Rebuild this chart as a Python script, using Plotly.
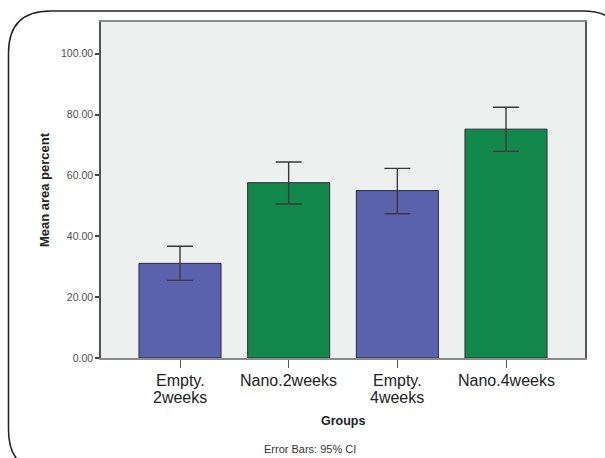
import plotly.graph_objects as go

# Group means with 95% confidence limits
groups = ["Empty.\n2weeks", "Nano.2weeks", "Empty.\n4weeks", "Nano.4weeks"]
means = [31.1, 57.6, 55.0, 75.2]
ci_upper = [36.7, 64.4, 62.3, 82.4]
ci_lower = [25.5, 50.6, 47.4, 67.9]
bar_colors = ["#5a62ae", "#12894a", "#5a62ae", "#12894a"]
y_ticks = [0, 20, 40, 60, 80, 100]

W, H = 605, 458
L, R, T, B = 101, 20, 22, 100

err_plus = [u - m for u, m in zip(ci_upper, means)]
err_minus = [m - lo for m, lo in zip(means, ci_lower)]

fig = go.Figure()
fig.add_trace(go.Bar(
    x=list(range(len(groups))),
    y=means,
    width=0.755,
    marker=dict(color=bar_colors, line=dict(color="#2b2b3a", width=1)),
    error_y=dict(type="data", symmetric=False, array=err_plus,
                 arrayminus=err_minus, color="#3a3a3a", thickness=1.4, width=13),
    hoverinfo="skip",
))


def px(x, y):
    """Pixel position -> paper coordinates."""
    return (x - L) / (W - L - R), (H - B - y) / (H - T - B)


def P(x, y):
    a, b = px(x, y)
    return f"{a:.5f},{b:.5f}"


# Rounded frame around the whole chart, partly running off the page
r = 42
x0, y0, x1, y1 = 8.5, 11, 625, 472
path = (f"M {P(x0 + r, y0)} L {P(x1 - r, y0)} Q {P(x1, y0)} {P(x1, y0 + r)} "
        f"L {P(x1, y1 - r)} Q {P(x1, y1)} {P(x1 - r, y1)} "
        f"L {P(x0 + r, y1)} Q {P(x0, y1)} {P(x0, y1 - r)} "
        f"L {P(x0, y0 + r)} Q {P(x0, y0)} {P(x0 + r, y0)} Z")
fig.add_shape(type="path", path=path, xref="paper", yref="paper",
              line=dict(color="#222222", width=1.5), layer="below")

fig.update_layout(
    width=W, height=H,
    margin=dict(l=L, r=R, t=T, b=B),
    paper_bgcolor="white",
    plot_bgcolor="#eef0ef",
    showlegend=False,
    font=dict(family="Liberation Sans, Arial, sans-serif", color="#222222"),
    xaxis=dict(
        range=[-0.727, 3.727],
        tickmode="array", tickvals=list(range(len(groups))),
        showticklabels=False,
        ticks="outside", ticklen=8, tickwidth=1, tickcolor="#555555",
        showgrid=False, zeroline=False,
        showline=True, linecolor="#8a8a8a", linewidth=1.5, mirror=True,
    ),
    yaxis=dict(
        range=[0, 110.4],
        tickmode="array", tickvals=y_ticks,
        ticktext=[f"{v:.2f}" for v in y_ticks],
        ticks="outside", ticklen=4, tickwidth=1.5, tickcolor="#444444",
        tickfont=dict(size=10.5, color="#505050"),
        showgrid=False, zeroline=False,
        showline=True, linecolor="#555555", linewidth=1.5, mirror=True,
        title=dict(text="<b>Mean area percent</b>", font=dict(size=13, color="#222222"), standoff=8),
    ),
)

# Category labels, set line by line with tight leading
for i, label in enumerate(groups):
    for j, line in enumerate(label.split("\n")):
        fig.add_annotation(text=line, xref="x", yref="paper", x=i,
                           y=px(0, 380 + 17 * j)[1], yanchor="middle",
                           borderpad=0, showarrow=False,
                           font=dict(size=16, color="#222222"))

fig.add_annotation(text="<b>Groups</b>", xref="paper", yref="paper",
                   x=px(343, 0)[0], y=px(0, 421)[1], yanchor="middle",
                   showarrow=False, font=dict(size=12.5, color="#222222"))

fig.add_annotation(text="Error Bars: 95% CI", xref="paper", yref="paper",
                   x=px(310, 0)[0], y=px(0, 449)[1], yanchor="middle",
                   showarrow=False, font=dict(size=11, color="#333333"))

fig.write_html("out.html")
